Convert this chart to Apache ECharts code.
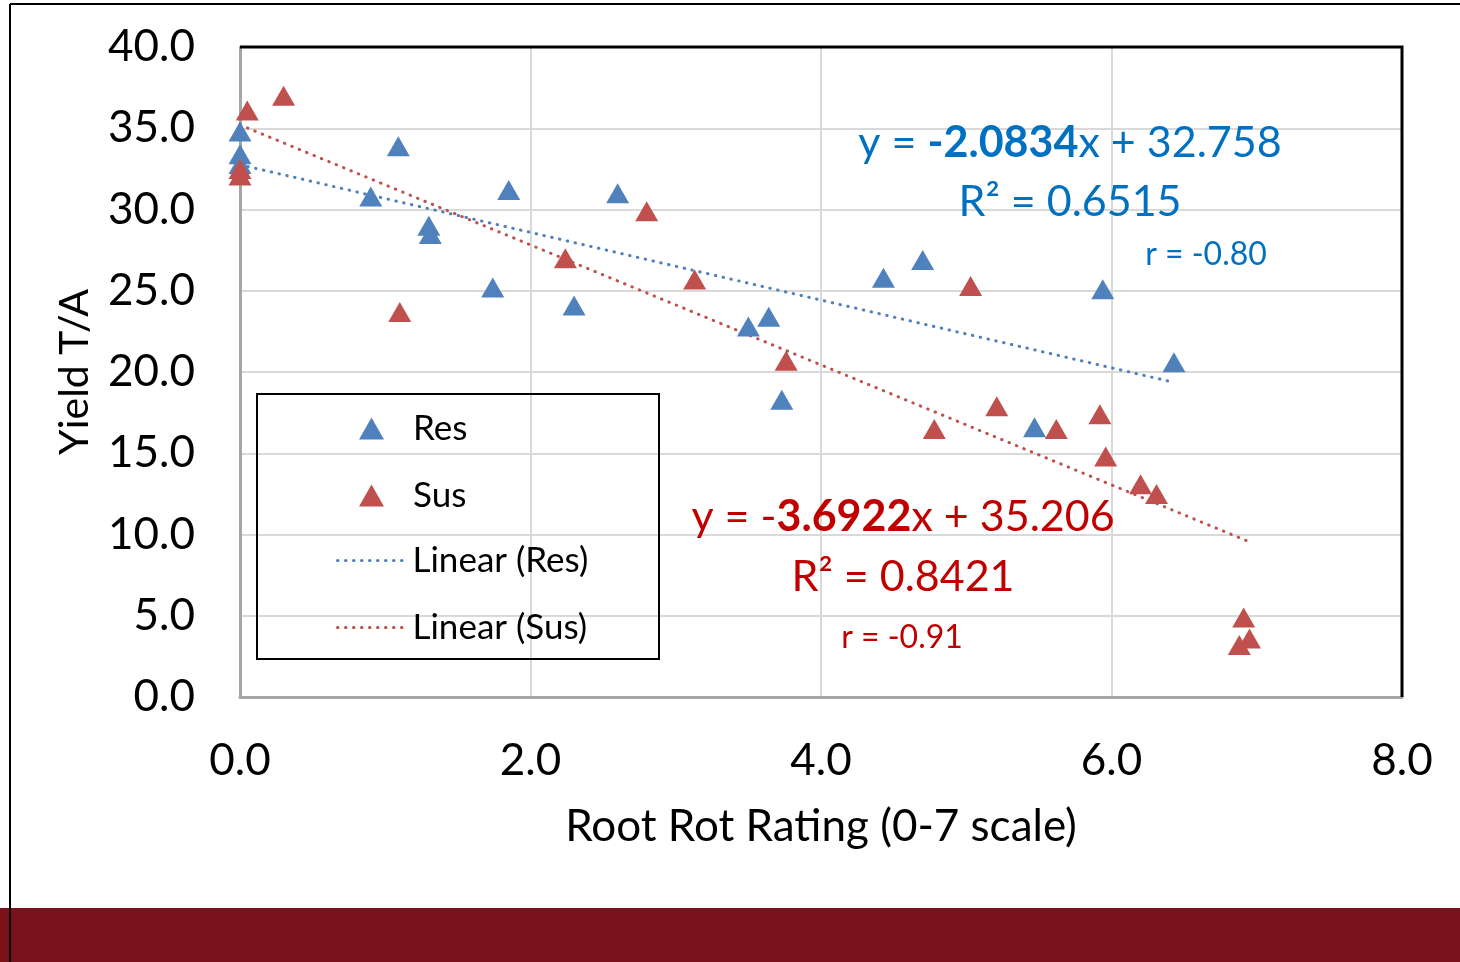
<!DOCTYPE html>
<html><head><meta charset="utf-8">
<script src="https://cdn.jsdelivr.net/npm/echarts@6/dist/echarts.min.js"></script>
<style>html,body{margin:0;padding:0;background:#fff}#c{width:1460px;height:962px}</style>
</head><body><div id="c"></div>
<script>
// Data
const resX = [0.00, 0.00, 0.00, 0.90, 1.09, 1.30, 1.31, 1.74, 1.85, 2.30, 2.60, 3.50, 3.64, 3.73, 4.43, 4.70, 5.47, 5.94, 6.43];
const resY = [34.8, 33.4, 32.8, 30.8, 33.9, 29.0, 28.5, 25.2, 31.2, 24.1, 31.0, 22.8, 23.4, 18.3, 25.8, 26.9, 16.6, 25.1, 20.6];
const susX = [0.05, 0.30, 0.00, 0.00, 1.10, 2.24, 2.80, 3.13, 3.76, 4.78, 5.03, 5.21, 5.62, 5.92, 5.96, 6.20, 6.31, 6.91, 6.95, 6.88];
const susY = [36.1, 37.0, 32.5, 32.1, 23.7, 27.0, 29.9, 25.7, 20.7, 16.5, 25.3, 17.9, 16.5, 17.4, 14.8, 13.1, 12.5, 4.9, 3.6, 3.2];
const resFit = [-2.0834, 32.758];   // slope, intercept
const susFit = [-3.6922, 35.206];
const resR2 = '0.6515', susR2 = '0.8421';
const resR = '-0.80', susR = '-0.91';
const xTicks = [0, 2, 4, 6, 8];
const yTicks = [0, 5, 10, 15, 20, 25, 30, 35, 40];

const FONT = 'Lato';
const BLUE = '#4f81bd', RED = '#c0504d';
const BLUE_T = '#0070c0', RED_T = '#c00000';

function pts(xs, ys){ return xs.map((x,i)=>[x, ys[i]]); }
function fitLine(xs, fit){
  const lo = Math.min(...xs), hi = Math.max(...xs);
  return [[lo, fit[0]*lo + fit[1]], [hi, fit[0]*hi + fit[1]]];
}

const chart = echarts.init(document.getElementById('c'), null, {renderer:'canvas'});
const dotted = {width:3, type:[0.5, 7.5], cap:'round'};
const legendText = {fontFamily:FONT, fontSize:35, lineHeight:34, color:'#000'};

chart.setOption({
  animation:false,
  backgroundColor:'#fff',
  grid:{left:240, right:58, top:47, bottom:265, show:false},
  xAxis:{
    type:'value', min:xTicks[0], max:xTicks[xTicks.length-1], interval:2,
    axisLine:{show:true, onZero:false, lineStyle:{color:'#a6a6a6', width:3}},
    axisTick:{show:false},
    splitLine:{show:true, showMinLine:false, showMaxLine:false, lineStyle:{color:'#d9d9d9', width:2}},
    axisLabel:{fontFamily:FONT, fontSize:44, color:'#000', margin:42, formatter:v=>v.toFixed(1)},
    name:'Root Rot Rating (0-7 scale)', nameLocation:'middle', nameGap:108,
    nameTextStyle:{fontFamily:FONT, fontSize:44, color:'#000'}
  },
  yAxis:{
    type:'value', min:yTicks[0], max:yTicks[yTicks.length-1], interval:5,
    axisLine:{show:true, onZero:false, lineStyle:{color:'#a6a6a6', width:3}},
    axisTick:{show:false},
    splitLine:{show:true, showMinLine:false, showMaxLine:false, lineStyle:{color:'#d9d9d9', width:2}},
    axisLabel:{fontFamily:FONT, fontSize:44, color:'#000', margin:45, formatter:v=>v.toFixed(1)},
    name:'Yield T/A', nameLocation:'middle', nameGap:145,
    nameTextStyle:{fontFamily:FONT, fontSize:41, color:'#000'}
  },
  legend:[
    {
      orient:'vertical', left:354, top:406, itemWidth:25, itemHeight:22, itemGap:32,
      textStyle:Object.assign({padding:[0,0,0,24]}, legendText),
      data:[{name:'Res', icon:'triangle'}, {name:'Sus', icon:'triangle'}]
    },
    {
      orient:'vertical', left:331, top:538, itemWidth:70, itemHeight:22, itemGap:32,
      textStyle:Object.assign({padding:[0,0,0,0]}, legendText),
      data:[
        {name:'Linear (Res)', itemStyle:{opacity:0}, lineStyle:Object.assign({color:BLUE}, dotted)},
        {name:'Linear (Sus)', itemStyle:{opacity:0}, lineStyle:Object.assign({color:RED}, dotted)}
      ]
    }
  ],
  series:[
    {name:'Linear (Res)', type:'line', data:fitLine(resX, resFit), symbol:'none', showSymbol:false, lineStyle:Object.assign({color:BLUE}, dotted), itemStyle:{color:BLUE}, z:3},
    {name:'Linear (Sus)', type:'line', data:fitLine(susX, susFit), symbol:'none', showSymbol:false, lineStyle:Object.assign({color:RED}, dotted), itemStyle:{color:RED}, z:3},
    {name:'Res', type:'scatter', data:pts(resX, resY), symbol:'triangle', symbolSize:[23,20], itemStyle:{color:BLUE, opacity:1}, z:4},
    {name:'Sus', type:'scatter', data:pts(susX, susY), symbol:'triangle', symbolSize:[23,20], itemStyle:{color:RED, opacity:1}, z:4}
  ],
  graphic:[
    {type:'rect', shape:{x:0, y:908, width:1460, height:54}, style:{fill:'#7a121c'}, z:1},
    {type:'line', shape:{x1:10, y1:4, x2:1460, y2:4}, style:{stroke:'#000', lineWidth:2}, z:2},
    {type:'line', shape:{x1:10, y1:4, x2:10, y2:962}, style:{stroke:'#000', lineWidth:2}, z:2},
    {type:'polyline', shape:{points:[[240,47],[1402,47],[1402,697]]}, style:{fill:null, stroke:'#000', lineWidth:3}, z:5},
    {type:'rect', shape:{x:257, y:394, width:402, height:265}, style:{fill:null, stroke:'#000', lineWidth:2}, z:5},
    {type:'text', x:1070, y:143, z:6, style:{
      text:'{n|y = }{b|' + resFit[0].toFixed(4) + '}{n|x + ' + resFit[1].toFixed(3) + '}',
      align:'center', verticalAlign:'middle',
      rich:{n:{fontFamily:FONT, fontSize:43, fill:BLUE_T}, b:{fontFamily:FONT, fontSize:43, fontWeight:'bold', fill:BLUE_T}}
    }},
    {type:'text', x:1070, y:202, z:6, style:{text:'R² = ' + resR2, fontFamily:FONT, fontSize:43, fill:BLUE_T, align:'center', verticalAlign:'middle'}},
    {type:'text', x:1206, y:255, z:6, style:{text:'r = ' + resR, fontFamily:FONT, fontSize:32, fill:BLUE_T, align:'center', verticalAlign:'middle'}},
    {type:'text', x:903, y:517, z:6, style:{
      text:'{n|y = -}{b|' + Math.abs(susFit[0]).toFixed(4) + '}{n|x + ' + susFit[1].toFixed(3) + '}',
      align:'center', verticalAlign:'middle',
      rich:{n:{fontFamily:FONT, fontSize:43, fill:RED_T}, b:{fontFamily:FONT, fontSize:43, fontWeight:'bold', fill:RED_T}}
    }},
    {type:'text', x:903, y:577, z:6, style:{text:'R² = ' + susR2, fontFamily:FONT, fontSize:43, fill:RED_T, align:'center', verticalAlign:'middle'}},
    {type:'text', x:902, y:638, z:6, style:{text:'r = ' + susR, fontFamily:FONT, fontSize:32, fill:RED_T, align:'center', verticalAlign:'middle'}}
  ]
});
</script></body></html>
